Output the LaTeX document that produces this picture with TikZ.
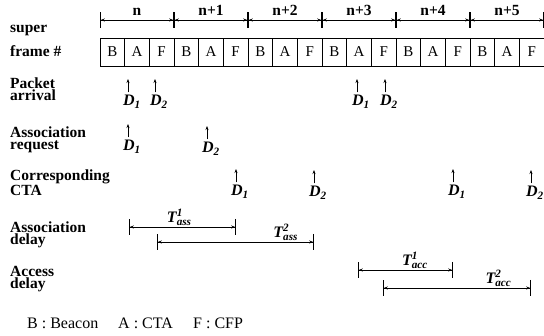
\documentclass[tikz,border=0pt]{standalone}
\usepackage{fontspec}
\setmainfont{Liberation Serif}
\usetikzlibrary{arrows.meta,calc}

\tikzset{
  rowlbl/.style={font=\fontsize{15.5}{12.5}\selectfont\bfseries, align=left, anchor=west, inner sep=0pt},
  slot/.style={draw, line width=0.8pt, minimum width=24.67pt, minimum height=28pt, inner sep=0pt,
    font=\fontsize{15}{15}\selectfont},
  dlbl/.style={font=\fontsize{16}{16}\selectfont\bfseries\itshape, inner sep=0pt},
  tlbl/.style={font=\fontsize{16}{16}\selectfont\bfseries\itshape, inner sep=1pt, anchor=south},
  span/.style={line width=0.8pt,
    {Bar[width=16pt]Stealth[length=4pt,width=3pt]}-{Stealth[length=4pt,width=3pt]Bar[width=16pt]}},
  up/.style={line width=0.7pt, -{Stealth[length=4pt,width=3pt]}},
}

\begin{document}
\begin{tikzpicture}[x=1pt,y=-1pt]
  \useasboundingbox (0,0) rectangle (544,336);
  % Row labels
  \node[rowlbl] (super) at (10,30) {super};
  \node[rowlbl] (frame) at (10,51) {frame \#};
  \node[rowlbl] (pkt) at (10,89) {Packet\\arrival};
  \node[rowlbl] (req) at (10,140) {Association\\request};
  \node[rowlbl] (cta) at (10,183) {Corresponding\\CTA};
  \node[rowlbl] (adel) at (10,235) {Association\\delay};
  \node[rowlbl] (xdel) at (10,279) {Access\\delay};

  % Superframe slots
  \foreach \l [count=\i] in {B,A,F,B,A,F,B,A,F,B,A,F,B,A,F,B,A,F}
    \node[slot] (s\i) at ({100+24.667*(\i-0.5)},52) {\l};

  % Superframe numbers
  \foreach \k in {0,...,6}
    \coordinate (t\k) at ({100+74*\k},20);
  \foreach \k/\m/\txt in {0/1/n,1/2/n+1,2/3/n+2,3/4/n+3,4/5/n+4,5/6/n+5}
    \draw[span] (t\k) -- node[above=1pt, font=\fontsize{15.5}{15}\selectfont\bfseries] {\txt} (t\m);

  % Arrivals, requests and CTAs
  \foreach \nm/\x/\y/\k in {pa1/128/102/1, pa2/155/102/2, pa3/357/102/1, pa4/385/102/2,
                            ar1/128/147/1, ar2/207/149/2,
                            ct1/236/192/1, ct2/314/193/2, ct3/453/192/1, ct4/531/193/2} {
    \node[dlbl] (\nm) at (\x+4,\y) {D\textsubscript{\k}};
    \coordinate (\nm top) at (\x,\y-23);
    \draw[up] ($(\nm top |- \nm.north)+(0,-3)$) -- (\nm top);
  }

  % Delays
  \coordinate (a1s) at (129,227); \coordinate (a1e) at (236,227);
  \coordinate (a2s) at (157,242); \coordinate (a2e) at (314,242);
  \coordinate (c1s) at (358,270); \coordinate (c1e) at (453,270);
  \coordinate (c2s) at (383,288); \coordinate (c2e) at (531,288);
  \draw[span] (a1s) -- node[tlbl, pos=0.47] {T\rlap{\textsuperscript{1}}\textsubscript{ass}} (a1e);
  \draw[span] (a2s) -- node[tlbl, pos=0.82] {T\rlap{\textsuperscript{2}}\textsubscript{ass}} (a2e);
  \draw[span] (c1s) -- node[tlbl, pos=0.6] {T\rlap{\textsuperscript{1}}\textsubscript{acc}} (c1e);
  \draw[span] (c2s) -- node[tlbl, pos=0.78] {T\rlap{\textsuperscript{2}}\textsubscript{acc}} (c2e);

  % Legend
  \node[font=\fontsize{16}{16}\selectfont, anchor=west, inner sep=0pt] (lb) at (27,323) {B : Beacon};
  \node[font=\fontsize{16}{16}\selectfont, anchor=west, inner sep=0pt] (la) at (118,323) {A : CTA};
  \node[font=\fontsize{16}{16}\selectfont, anchor=west, inner sep=0pt] (lf) at (193,323) {F : CFP};
\end{tikzpicture}
\end{document}
